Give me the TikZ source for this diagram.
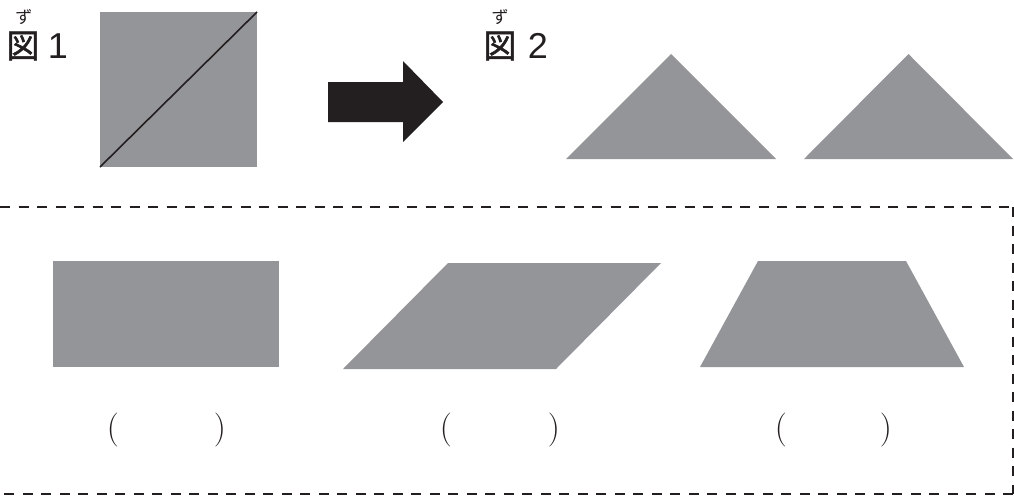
\documentclass[tikz,border=0pt]{standalone}
\usepackage{fontspec}
\newfontfamily\cjk{Noto Sans CJK JP}
\newfontfamily\cjkbold[FakeBold=1.5]{Noto Sans CJK JP}
\newfontfamily\helv{Liberation Sans}
\definecolor{shapegray}{HTML}{939598}
\definecolor{inkblack}{HTML}{231F20}
\tikzset{
  shapefill/.style={fill=shapegray, draw=none},
  figlabel/.style={inner sep=0pt, text=inkblack, font=\cjkbold\fontsize{33}{33}\selectfont},
  fignum/.style={inner sep=0pt, text=inkblack, font=\helv\fontsize{36}{36}\selectfont},
  ruby/.style={inner sep=0pt, text=inkblack, font=\cjk\fontsize{17}{17}\selectfont},
  paren/.style={inner sep=0pt, text=inkblack, font=\fontsize{34}{34}\selectfont},
  border/.style={draw=inkblack, dash pattern=on 10pt off 8.5pt},
}
\begin{document}
\begin{tikzpicture}[x=1pt,y=-1pt]
\useasboundingbox (0,0) rectangle (1014,495);
% Figure 1 label
\node[ruby] (r1) at (24,17) {ず};
\node[figlabel] (z1) at (23,46) {図};
\node[fignum] (n1) at (58,46.5) {1};
% square with diagonal
\fill[shapegray] (100,12) rectangle (257,167);
\draw[inkblack, line width=1.6pt] (100,167) -- (257,12);
% block arrow
\fill[inkblack] (328,82) -- (403,82) -- (403,61) -- (443,102) -- (403,142) -- (403,122) -- (328,122) -- cycle;
% Figure 2 label
\node[ruby] (r2) at (500,17) {ず};
\node[figlabel] (z2) at (500,46) {図};
\node[fignum] (n2) at (538,45.5) {2};
% triangles
\fill[shapegray] (566,159) -- (776,159) -- (671,54) -- cycle;
\fill[shapegray] (804,159) -- (1013,159) -- (908.5,54) -- cycle;
% dashed frame
\draw[border, line width=2pt] (0,207) -- (1013,207);
\draw[border, line width=1.3pt] (1013,207) -- (1013,494);
\draw[border, line width=2pt] (1013,494) -- (0,494);
% lower shapes
\fill[shapegray] (53,261) rectangle (279,367);
\fill[shapegray] (448,263) -- (661,263) -- (556,369) -- (343,369) -- cycle;
\fill[shapegray] (758,261) -- (906,261) -- (964,367) -- (700,367) -- cycle;
% parentheses
\node[paren] (pa1) at (113,430) {(};
\node[paren] (pb1) at (220,430) {)};
\node[paren] (pa2) at (446,430) {(};
\node[paren] (pb2) at (554,430) {)};
\node[paren] (pa3) at (781,430) {(};
\node[paren] (pb3) at (886,430) {)};
\end{tikzpicture}
\end{document}
